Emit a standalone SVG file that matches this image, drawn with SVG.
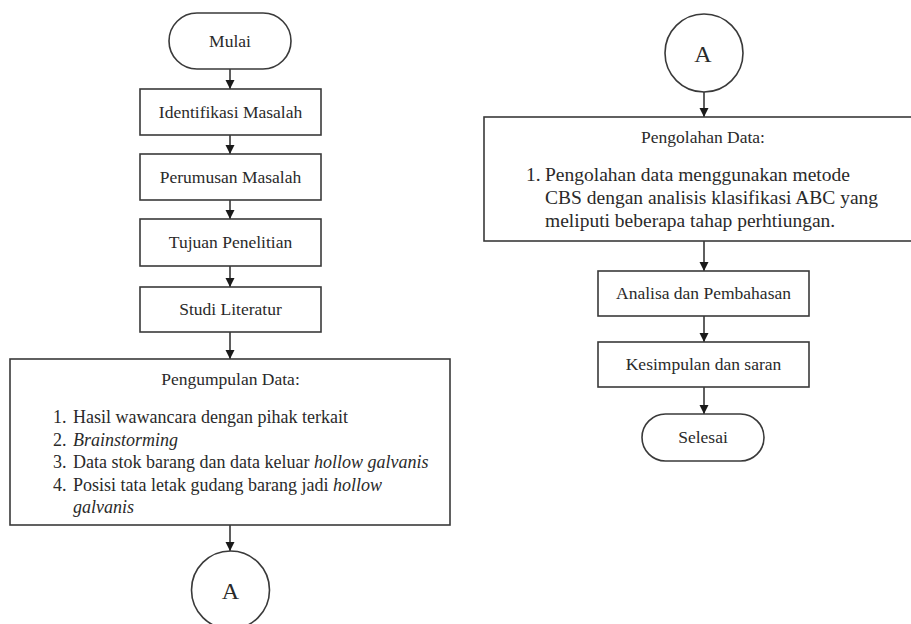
<svg xmlns="http://www.w3.org/2000/svg" width="911" height="624" viewBox="0 0 911 624">
<defs>
<style>
.s{fill:#fff;stroke:#3a3a3a;stroke-width:1.6}
.t{font-family:"Liberation Serif","Times New Roman",serif;font-size:17.5px;fill:#2a2a2a}
.c{text-anchor:middle}
.i{font-style:italic}
.ll{font-size:18px}
.rl{font-size:19.5px}
.a{font-size:24px}
.l{stroke:#2a2a2a;stroke-width:1.5;fill:none}
</style>
<marker id="ah" markerWidth="10" markerHeight="10" refX="9" refY="5" orient="auto" markerUnits="userSpaceOnUse">
<path d="M0,0.5 L9,5 L0,9.5 z" fill="#1a1a1a"/>
</marker>
</defs>
<rect width="911" height="624" fill="#fff"/>
<g id="connectors">
<line class="l" x1="230" y1="69" x2="230" y2="89" marker-end="url(#ah)"/>
<line class="l" x1="230" y1="135" x2="230" y2="154" marker-end="url(#ah)"/>
<line class="l" x1="230" y1="200" x2="230" y2="219" marker-end="url(#ah)"/>
<line class="l" x1="230" y1="266" x2="230" y2="287" marker-end="url(#ah)"/>
<line class="l" x1="230" y1="332" x2="230" y2="359" marker-end="url(#ah)"/>
<line class="l" x1="230" y1="525" x2="230" y2="551" marker-end="url(#ah)"/>
<line class="l" x1="704" y1="92" x2="704" y2="117" marker-end="url(#ah)"/>
<line class="l" x1="704" y1="241" x2="704" y2="271" marker-end="url(#ah)"/>
<line class="l" x1="704" y1="316" x2="704" y2="342" marker-end="url(#ah)"/>
<line class="l" x1="704" y1="387" x2="704" y2="414" marker-end="url(#ah)"/>
</g>
<g id="mulai">
<rect class="s" x="169" y="13" width="122" height="56" rx="28" ry="28"/>
<text class="t c" x="230" y="47">Mulai</text>
</g>
<g id="identifikasi">
<rect class="s" x="140" y="89" width="181" height="46"/>
<text class="t c" x="230.5" y="118">Identifikasi Masalah</text>
</g>
<g id="perumusan">
<rect class="s" x="140" y="154" width="181" height="46"/>
<text class="t c" x="230.5" y="183">Perumusan Masalah</text>
</g>
<g id="tujuan">
<rect class="s" x="140" y="219" width="181" height="47"/>
<text class="t c" x="230.5" y="248">Tujuan Penelitian</text>
</g>
<g id="studi">
<rect class="s" x="140" y="287" width="181" height="45"/>
<text class="t c" x="230.5" y="315">Studi Literatur</text>
</g>
<g id="pengumpulan">
<rect class="s" x="10" y="359" width="440" height="166"/>
<text class="t c" x="230.5" y="385">Pengumpulan Data:</text>
<text class="t ll" x="53" y="423">1.</text>
<text class="t ll" x="73" y="423">Hasil wawancara dengan pihak terkait</text>
<text class="t ll" x="53" y="445.5">2.</text>
<text class="t ll i" x="73" y="445.5">Brainstorming</text>
<text class="t ll" x="53" y="468">3.</text>
<text class="t ll" x="73" y="468">Data stok barang dan data keluar <tspan class="i">hollow galvanis</tspan></text>
<text class="t ll" x="53" y="490.5">4.</text>
<text class="t ll" x="73" y="490.5">Posisi tata letak gudang barang jadi <tspan class="i">hollow</tspan></text>
<text class="t ll i" x="73" y="513">galvanis</text>
</g>
<g id="konektor-a1">
<circle class="s" cx="230.5" cy="590" r="39"/>
<text class="t c a" x="230.5" y="599">A</text>
</g>
<g id="konektor-a2">
<circle class="s" cx="704" cy="53" r="39"/>
<text class="t c a" x="703" y="62">A</text>
</g>
<g id="pengolahan">
<rect class="s" x="484" y="117" width="440" height="124"/>
<text class="t c" x="703" y="143">Pengolahan Data:</text>
<text class="t rl" x="526" y="181">1.</text>
<text class="t rl" x="545" y="181">Pengolahan data menggunakan metode</text>
<text class="t rl" x="545" y="203.5">CBS dengan analisis klasifikasi ABC yang</text>
<text class="t rl" x="545" y="226.5">meliputi beberapa tahap perhtiungan.</text>
</g>
<g id="analisa">
<rect class="s" x="598" y="271" width="211" height="45"/>
<text class="t c" x="703.5" y="299">Analisa dan Pembahasan</text>
</g>
<g id="kesimpulan">
<rect class="s" x="598" y="342" width="211" height="45"/>
<text class="t c" x="703.5" y="370">Kesimpulan dan saran</text>
</g>
<g id="selesai">
<rect class="s" x="642" y="414" width="122" height="47" rx="23.5" ry="23.5"/>
<text class="t c" x="703" y="443">Selesai</text>
</g>
</svg>
